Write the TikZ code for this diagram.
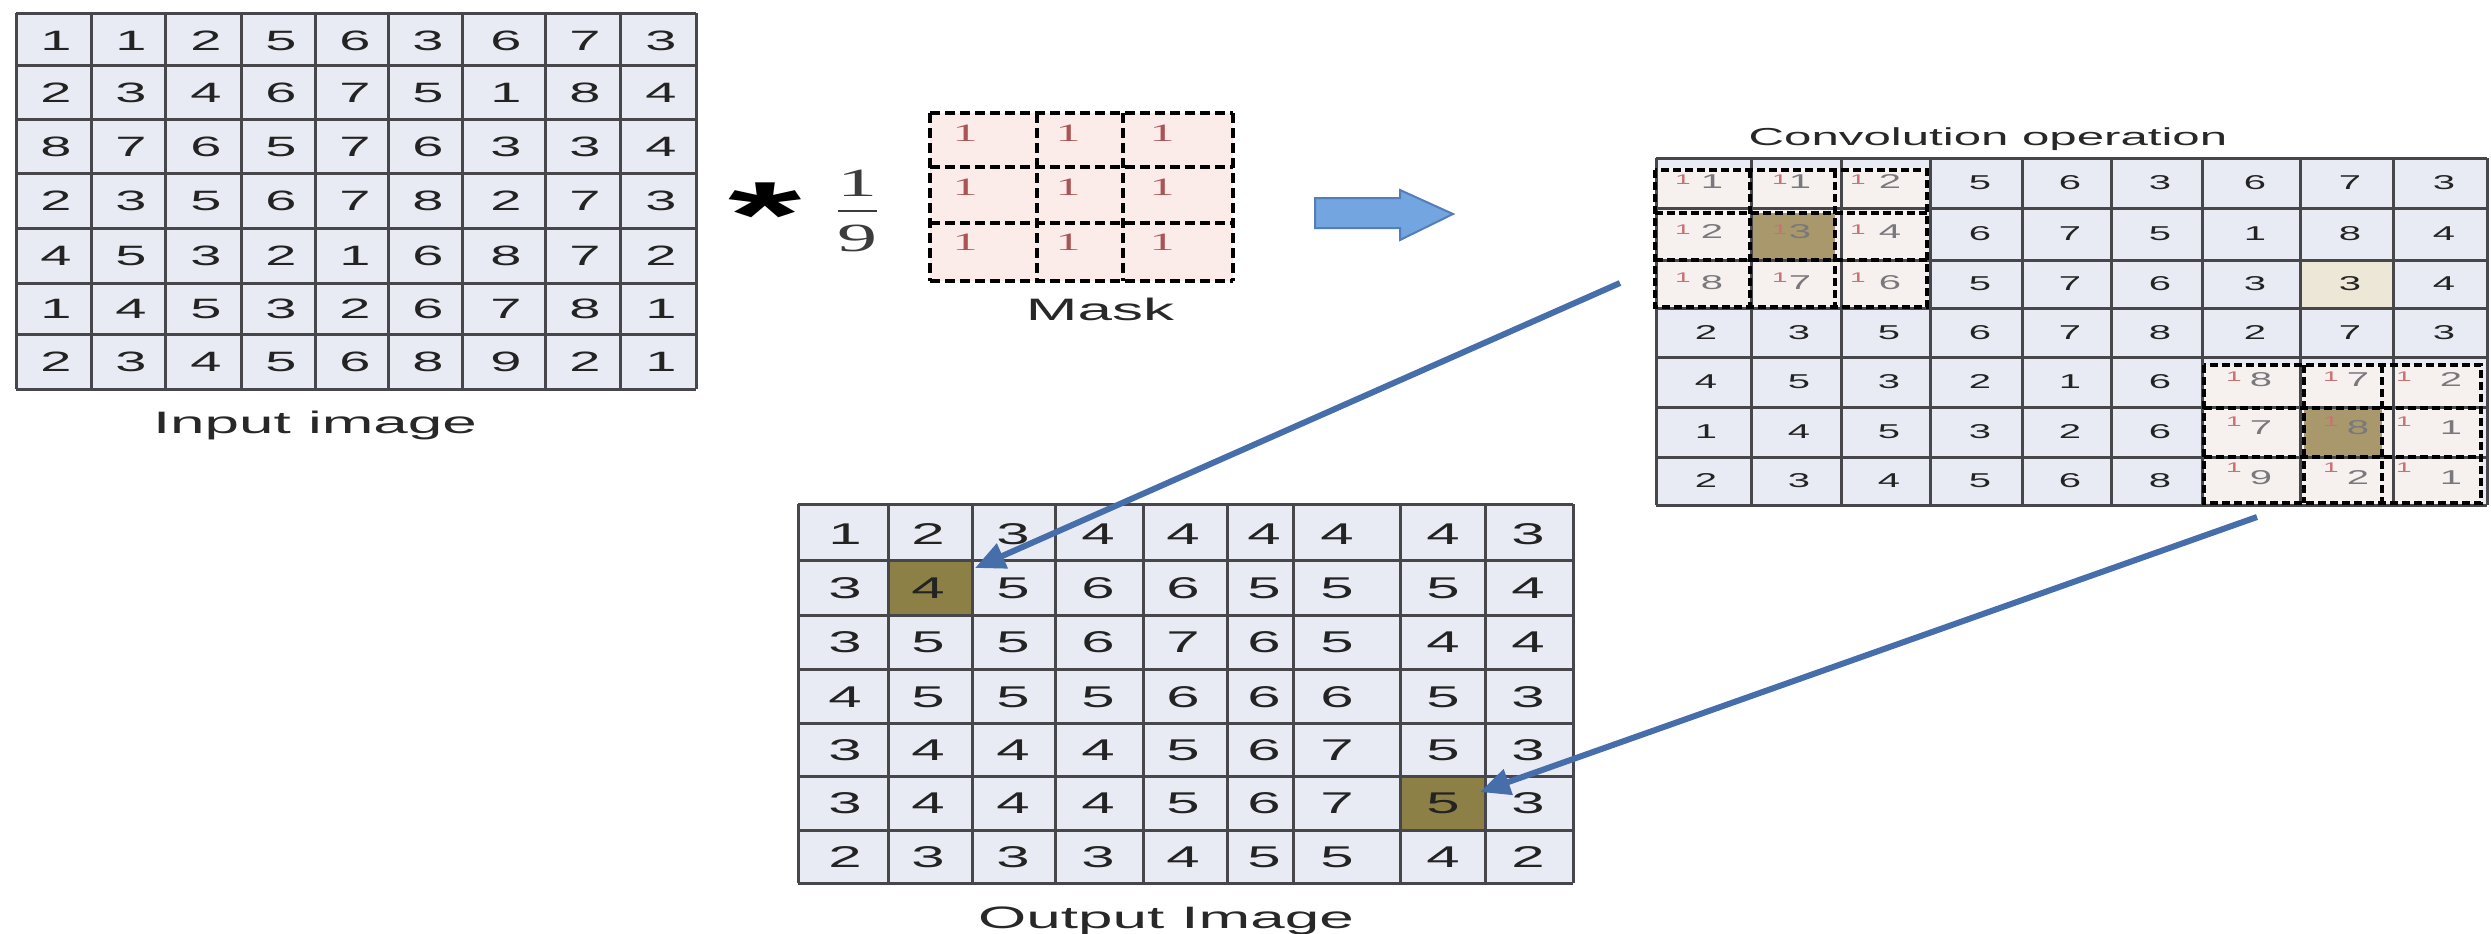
\documentclass[tikz,border=0pt]{standalone}
\usepackage{fontspec}
\setmainfont{Liberation Sans}
\newfontfamily\seriffam{Liberation Serif}
\usepackage{graphicx}
\usetikzlibrary{arrows.meta}
\definecolor{cellfill}{RGB}{232,235,243}
\definecolor{gridline}{RGB}{70,70,75}
\definecolor{digit}{RGB}{35,35,35}
\definecolor{labelc}{RGB}{40,40,40}
\definecolor{maskfill}{RGB}{251,236,233}
\definecolor{maskone}{RGB}{170,85,85}
\definecolor{olivec}{RGB}{140,128,70}
\definecolor{tanc}{RGB}{168,152,108}
\definecolor{beigec}{RGB}{236,231,214}
\definecolor{ovfill}{RGB}{246,241,239}
\definecolor{ovdigc}{RGB}{120,120,125}
\definecolor{ovredc}{RGB}{200,115,115}
\definecolor{arrowblue}{RGB}{70,110,170}
\definecolor{blockfill}{RGB}{115,165,225}
\definecolor{blockedge}{RGB}{85,125,185}
\definecolor{fracc}{RGB}{60,60,60}
\newcommand{\wx}[1]{\scalebox{2}[1]{#1}}
\tikzset{
  gridl/.style={draw=gridline, line width=1.5pt},
  dashl/.style={draw=black, line width=2pt, dash pattern=on 4pt off 2pt},
  maskl/.style={draw=black, line width=1.8pt, dash pattern=on 5pt off 2.5pt},
  indig/.style={inner sep=0pt, text=digit, font=\fontsize{14}{14}\selectfont},
  outdig/.style={inner sep=0pt, text=digit, font=\fontsize{15}{15}\selectfont},
  cvdig/.style={inner sep=0pt, text=digit, font=\fontsize{10}{10}\selectfont},
  ovdig/.style={inner sep=0pt, text=ovdigc, font=\fontsize{10}{10}\selectfont},
  ovred/.style={inner sep=0pt, text=ovredc, font=\fontsize{7}{7}\selectfont},
  maskdig/.style={inner sep=0pt, text=maskone, font=\seriffam\fontsize{12.5}{12.5}\selectfont},
  fracdig/.style={inner sep=0pt, text=fracc, font=\seriffam\fontsize{20}{20}\selectfont},
  lbl/.style={inner sep=0pt, anchor=base, text=labelc, font=\fontsize{15.5}{16}\selectfont},
  conn/.style={draw=arrowblue, line width=3pt, -{Triangle[length=15pt,width=13pt]}},
}
\begin{document}
\begin{tikzpicture}[x=0.5pt,y=-0.5pt]
\useasboundingbox[fill=white] (0,0) rectangle (2491,933);

% ---------------- Input image ----------------
\fill[cellfill] (16,13) rectangle (696,389);
\foreach \x in {16,91,165,241,315,388,462,545,620,696} \draw[gridl] (\x,13) -- (\x,389);
\foreach \y in {13,65,119,173,228,283,334,389} \draw[gridl] (16,\y) -- (696,\y);
\foreach \row [count=\rr] in {{1,1,2,5,6,3,6,7,3},{2,3,4,6,7,5,1,8,4},{8,7,6,5,7,6,3,3,4},{2,3,5,6,7,8,2,7,3},{4,5,3,2,1,6,8,7,2},{1,4,5,3,2,6,7,8,1},{2,3,4,5,6,8,9,2,1}}{
  \foreach \v [count=\cc] in \row {
    \pgfmathsetmacro\xx{{56,131,206,281,355,428,506,585,661}[\cc-1]}
    \pgfmathsetmacro\yy{{41,93,147,201,256,309,362}[\rr-1]}
    \node[indig] (in-\rr-\cc) at (\xx,\yy) {\wx{\v}};
  }
}
\node[lbl] (inlbl) at (315,433) {\wx{Input image}};

% ---------------- operator and mask ----------------
\node[inner sep=0pt, text=black, font=\fontsize{47}{47}\selectfont\bfseries] (star) at (765,215) {\wx{*}};
\node[fracdig] (fone) at (857,183) {\wx{1}};
\draw[draw=fracc, line width=1.2pt] (838,211) -- (877,211);
\node[fracdig] (fnine) at (857,238) {\wx{9}};

\fill[maskfill] (930,113) rectangle (1233,281);
\foreach \x in {930,1037,1123,1233} \draw[maskl] (\x,113) -- (\x,281);
\foreach \y in {113,167,223,281} \draw[maskl] (930,\y) -- (1233,\y);
\foreach \rr in {1,2,3}{
  \foreach \cc in {1,2,3}{
    \pgfmathsetmacro\xx{{965,1068,1162}[\cc-1]}
    \pgfmathsetmacro\yy{{133,187,242}[\rr-1]}
    \node[maskdig] (m-\rr-\cc) at (\xx,\yy) {\wx{1}};
  }
}
\node[lbl] (masklbl) at (1100,320) {\wx{Mask}};

% block arrow
\filldraw[fill=blockfill, draw=blockedge, line width=1pt]
  (1315,198) -- (1400,198) -- (1400,190) -- (1453,214) -- (1400,240) -- (1400,228) -- (1315,228) -- cycle;

% ---------------- Convolution operation ----------------
\node[lbl, font=\fontsize{12.3}{13}\selectfont] (convlbl) at (1988,145) {\wx{Convolution operation}};
\fill[cellfill] (1656,158) rectangle (2487,505);
\fill[ovfill] (1656,168) rectangle (1927,307);
\fill[ovfill] (2204,365) rectangle (2481,503);
\fill[tanc] (1750,213) rectangle (1835,260);
\fill[tanc] (2304,408) rectangle (2382,457);
\fill[beigec] (2300,260) rectangle (2393,308);
\foreach \x in {1656,1751,1841,1930,2022,2111,2202,2300,2393,2487} \draw[gridl] (\x,158) -- (\x,505);
\foreach \y in {158,208,260,308,357,407,457,505} \draw[gridl] (1656,\y) -- (2487,\y);
% dashed overlays
\draw[dashl] (1655,170) rectangle (1927,307);
\foreach \x in {1750,1835} \draw[dashl] (\x,170) -- (\x,307);
\foreach \y in {213,260} \draw[dashl] (1655,\y) -- (1927,\y);
\draw[dashl] (2204,365) rectangle (2481,503);
\foreach \x in {2304,2382} \draw[dashl] (\x,365) -- (\x,503);
\foreach \y in {408,457} \draw[dashl] (2204,\y) -- (2481,\y);
% plain digits
\foreach \row [count=\rr] in {{1,1,2,5,6,3,6,7,3},{2,3,4,6,7,5,1,8,4},{8,7,6,5,7,6,3,3,4},{2,3,5,6,7,8,2,7,3},{4,5,3,2,1,6,8,7,2},{1,4,5,3,2,6,7,8,1},{2,3,4,5,6,8,9,2,1}}{
  \foreach \v [count=\cc] in \row {
    \pgfmathtruncatemacro\ov{(((\rr<4)&&(\cc<4))||((\rr>4)&&(\cc>6)))?1:0}
    \ifnum\ov=0
      \pgfmathsetmacro\xx{{1706,1799,1889,1980,2070,2160,2255,2350,2444}[\cc-1]}
      \pgfmathsetmacro\yy{{183,234,284,333,382,432,481}[\rr-1]}
      \node[cvdig] (cv-\rr-\cc) at (\xx,\yy) {\wx{\v}};
    \fi
  }
}
% overlay cells, top left
\foreach \row [count=\rr] in {{1,1,2},{2,3,4},{8,7,6}}{
  \foreach \v [count=\cc] in \row {
    \pgfmathsetmacro\xr{{1683,1780,1858}[\cc-1]}
    \pgfmathsetmacro\xd{{1712,1800,1890}[\cc-1]}
    \pgfmathsetmacro\yr{{180,230,278}[\rr-1]}
    \pgfmathsetmacro\yd{{182,232,283}[\rr-1]}
    \node[ovred] (cvm-\rr-\cc) at (\xr,\yr) {\wx{1}};
    \node[ovdig] (cv-\rr-\cc) at (\xd,\yd) {\wx{\v}};
  }
}
% overlay cells, bottom right
\foreach \row [count=\rr] in {{8,7,2},{7,8,1},{9,2,1}}{
  \foreach \v [count=\cc] in \row {
    \pgfmathsetmacro\xr{{2234,2331,2404}[\cc-1]}
    \pgfmathsetmacro\xd{{2261,2358,2451}[\cc-1]}
    \pgfmathsetmacro\yr{{377,422,468}[\rr-1]}
    \pgfmathsetmacro\yd{{380,428,478}[\rr-1]}
    \node[ovred] (cvmb-\rr-\cc) at (\xr,\yr) {\wx{1}};
    \node[ovdig] (cvb-\rr-\cc) at (\xd,\yd) {\wx{\v}};
  }
}

% ---------------- Output image ----------------
\fill[cellfill] (798,504) rectangle (1573,883);
\fill[olivec] (888,560) rectangle (972,615);
\fill[olivec] (1400,776) rectangle (1485,830);
\foreach \x in {798,888,972,1055,1143,1227,1293,1400,1485,1573} \draw[gridl] (\x,504) -- (\x,883);
\foreach \y in {504,560,615,669,723,776,830,883} \draw[gridl] (798,\y) -- (1573,\y);
\foreach \row [count=\rr] in {{1,2,3,4,4,4,4,4,3},{3,4,5,6,6,5,5,5,4},{3,5,5,6,7,6,5,4,4},{4,5,5,5,6,6,6,5,3},{3,4,4,4,5,6,7,5,3},{3,4,4,4,5,6,7,5,3},{2,3,3,3,4,5,5,4,2}}{
  \foreach \v [count=\cc] in \row {
    \pgfmathsetmacro\xx{{845,928,1013,1098,1183,1264,1337,1443,1528}[\cc-1]}
    \pgfmathsetmacro\yy{{534,588,642,697,750,803,857}[\rr-1]}
    \node[outdig] (out-\rr-\cc) at (\xx,\yy) {\wx{\v}};
  }
}
\node[lbl] (outlbl) at (1166,928) {\wx{Output Image}};

% ---------------- connectors ----------------
\coordinate (t1) at (1620,283);
\coordinate (h1) at (975,568);
\coordinate (t2) at (2257,517);
\coordinate (h2) at (1480,792);
\draw[conn] (t1) -- (h1);
\draw[conn] (t2) -- (h2);
\end{tikzpicture}
\end{document}
